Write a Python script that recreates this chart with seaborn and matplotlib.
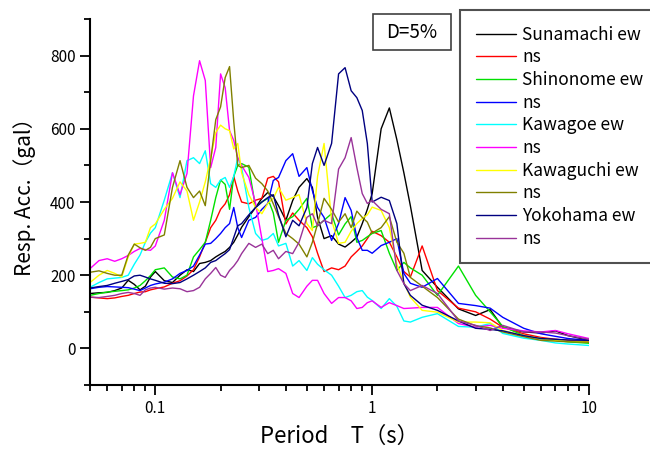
import matplotlib
matplotlib.use('Agg')  # no display

import seaborn as sns
import matplotlib.pyplot as plt
from matplotlib.patches import Rectangle
from matplotlib.ticker import FixedLocator, LogLocator, MultipleLocator, NullFormatter

# period (s), shared by every record
periods = [0.05, 0.055, 0.06, 0.065, 0.07, 0.075, 0.08, 0.085, 0.09, 0.095,
           0.1, 0.11, 0.12, 0.13, 0.14, 0.15, 0.16, 0.17, 0.18, 0.19,
           0.2, 0.21, 0.22, 0.23, 0.24, 0.25, 0.27, 0.29, 0.31, 0.33,
           0.35, 0.37, 0.4, 0.43, 0.46, 0.5, 0.53, 0.56, 0.6, 0.65,
           0.7, 0.75, 0.8, 0.85, 0.9, 0.95, 1.0, 1.1, 1.2, 1.3,
           1.4, 1.5, 1.7, 2.0, 2.5, 3.0, 3.5, 4.0, 5.0, 6.0,
           7.0, 8.0, 10.0]

# response acceleration (gal), D=5%
sunamachi_ew = [150, 152, 153, 158, 165, 186, 175, 160, 170, 195,
                210, 185, 180, 200, 215, 210, 232, 235, 240, 250,
                258, 265, 276, 290, 310, 331, 360, 385, 410, 426,
                415, 390, 350, 404, 440, 464, 440, 358, 300, 308,
                285, 277, 290, 304, 341, 380, 423, 600, 657, 570,
                480, 390, 213, 167, 108, 90, 106, 58, 45, 42,
                48, 35, 22]
sunamachi_ns = [140, 138, 136, 138, 142, 145, 150, 154, 155, 160,
                163, 168, 178, 185, 198, 215, 250, 290, 330, 350,
                380, 395, 420, 470, 430, 400, 395, 405, 410, 465,
                470, 455, 340, 370, 350, 330, 305, 260, 210, 220,
                215, 225, 250, 265, 280, 300, 320, 308, 290, 250,
                210, 195, 280, 158, 110, 100, 80, 58, 40, 30,
                25, 22, 17]
shinonome_ew = [145, 150, 154, 156, 158, 160, 165, 172, 185, 199,
                215, 220, 195, 190, 200, 250, 270, 290, 350, 412,
                460, 448, 380, 470, 500, 505, 495, 385, 400, 410,
                370, 290, 350, 360, 380, 410, 330, 335, 350, 368,
                310, 340, 360, 290, 295, 305, 314, 322, 260, 213,
                235, 220, 200, 145, 225, 145, 100, 60, 35, 27,
                22, 18, 14]
shinonome_ns = [163, 167, 169, 168, 167, 166, 162, 158, 165, 172,
                176, 181, 190, 205, 213, 225, 255, 285, 287, 300,
                314, 330, 341, 385, 330, 303, 350, 358, 380, 396,
                459, 467, 513, 532, 470, 494, 431, 385, 358, 295,
                341, 412, 377, 303, 268, 268, 260, 281, 290, 300,
                205, 178, 167, 191, 123, 117, 110, 85, 55, 40,
                33, 27, 22]
kawagoe_ew = [167, 180, 190, 192, 194, 200, 230, 255, 290, 315,
              330, 405, 480, 412, 513, 521, 505, 540, 450, 440,
              460, 467, 440, 470, 521, 494, 385, 314, 295, 300,
              314, 280, 287, 225, 240, 213, 248, 230, 215, 200,
              170, 139, 145, 155, 158, 140, 131, 109, 136, 115,
              75, 72, 85, 95, 60, 58, 68, 41, 28, 22,
              15, 12, 8]
kawagoe_ns = [218, 240, 245, 238, 245, 254, 265, 273, 270, 268,
              280, 350, 480, 420, 478, 690, 786, 732, 494, 549,
              750, 712, 595, 568, 521, 500, 467, 396, 300, 210,
              213, 218, 205, 150, 139, 170, 186, 186, 150, 123,
              139, 139, 130, 109, 112, 125, 130, 112, 125, 117,
              109, 110, 112, 112, 68, 58, 63, 55, 48, 45,
              49, 40, 27]
kawaguchi_ew = [180, 200, 213, 205, 195, 250, 285, 287, 290, 330,
                340, 380, 410, 455, 430, 350, 400, 455, 520, 590,
                610, 600, 595, 545, 560, 480, 420, 385, 368, 396,
                410, 440, 405, 412, 420, 341, 322, 470, 560, 350,
                287, 290, 320, 341, 355, 365, 386, 377, 330, 230,
                180, 140, 104, 99, 72, 72, 70, 49, 35, 27,
                22, 20, 17]
kawaguchi_ns = [208, 212, 205, 200, 200, 255, 285, 275, 268, 276,
                300, 310, 440, 513, 440, 412, 430, 390, 513, 625,
                660, 740, 770, 620, 500, 494, 500, 465, 450, 430,
                395, 360, 314, 300, 285, 250, 290, 340, 410, 380,
                345, 368, 330, 375, 358, 345, 315, 330, 360, 290,
                260, 194, 170, 139, 80, 62, 56, 45, 32, 22,
                20, 18, 17]
yokohama_ew = [165, 169, 172, 178, 183, 188, 198, 200, 195, 190,
               186, 178, 177, 180, 190, 200, 210, 220, 235, 240,
               250, 259, 270, 303, 335, 341, 365, 385, 400, 412,
               420, 365, 305, 350, 335, 385, 505, 549, 500, 560,
               750, 767, 704, 685, 650, 560, 400, 413, 404, 341,
               177, 145, 118, 104, 75, 55, 52, 48, 35, 27,
               25, 23, 22]
yokohama_ns = [140, 139, 142, 145, 150, 153, 150, 145, 160, 165,
               167, 162, 165, 163, 155, 158, 167, 190, 205, 221,
               200, 194, 213, 225, 240, 259, 287, 276, 285, 259,
               268, 245, 265, 259, 290, 358, 368, 335, 350, 341,
               490, 521, 576, 494, 423, 396, 404, 380, 368, 213,
               177, 158, 172, 150, 75, 63, 49, 63, 45, 45,
               42, 35, 25]

labels = ["Sunamachi ew", "ns", "Shinonome ew", "ns", "Kawagoe ew",
          "ns", "Kawaguchi ew", "ns", "Yokohama ew", "ns"]
colors = ["black", "red", "#00e000", "blue", "cyan",
          "magenta", "#ffff00", "#808000", "#000080", "#993399"]
records = [sunamachi_ew, sunamachi_ns, shinonome_ew, shinonome_ns, kawagoe_ew,
           kawagoe_ns, kawaguchi_ew, kawaguchi_ns, yokohama_ew, yokohama_ns]

sns.set_style("ticks")
plt.rcParams['font.family'] = ['Noto Sans CJK JP', 'DejaVu Sans']
plt.rcParams['text.color'] = 'black'
plt.rcParams['axes.labelcolor'] = 'black'

fig = plt.figure(figsize=(6.5, 4.5), dpi=100)
ax = fig.add_axes([0.1385, 0.1444, 0.7677, 0.8134])

for values, color in zip(records, colors):
    sns.lineplot(x=periods, y=values, color=color, linewidth=1.0,
                 sort=False, estimator=None, legend=False, ax=ax)

ax.set_xscale('log')
ax.set_xlim(0.05, 10)
ax.set_ylim(-100, 900)

ax.xaxis.set_major_locator(FixedLocator([0.1, 1, 10]))
ax.set_xticklabels(["0.1", "1", "10"])
ax.xaxis.set_minor_locator(LogLocator(base=10, subs=[2, 3, 4, 5, 6, 7, 8, 9]))
ax.xaxis.set_minor_formatter(NullFormatter())
ax.set_yticks([0, 200, 400, 600, 800])
ax.yaxis.set_minor_locator(MultipleLocator(100))

ax.tick_params(which='major', direction='out', length=7, width=1.3, labelsize=11, colors='black')
ax.tick_params(which='minor', direction='out', length=4, width=1.3, colors='black')
for side in ['top', 'right']:
    ax.spines[side].set_visible(False)
for side in ['left', 'bottom']:
    ax.spines[side].set_linewidth(1.5)
    ax.spines[side].set_color('black')

ax.set_xlabel("Period　T（s）", fontsize=16, labelpad=6)
ax.set_ylabel("Resp. Acc.（gal）", fontsize=15, labelpad=10)
ax.yaxis.label.set_y(0.527)

# damping box
fig.patches.append(Rectangle((373 / 650, 1 - 50 / 450), 78 / 650, 36 / 450,
                             transform=fig.transFigure, facecolor='white',
                             edgecolor='#404040', linewidth=1.2))
fig.text(412 / 650, 1 - 32 / 450, "D=5%", fontsize=13.5, ha='center', va='center')

leg = fig.legend(ax.get_lines(), labels, loc='upper left',
                 bbox_to_anchor=(460 / 650, 1 - 10 / 450), borderaxespad=0,
                 frameon=True, fancybox=False, framealpha=1, edgecolor='#505050',
                 fontsize=12.5, handlelength=2.3, handletextpad=0.4,
                 labelspacing=0.27, borderpad=0.9)
leg.get_frame().set_linewidth(1.5)
for txt in leg.get_texts():
    txt.set_color('black')

fig.savefig("out.png", dpi=100)
plt.close(fig)
